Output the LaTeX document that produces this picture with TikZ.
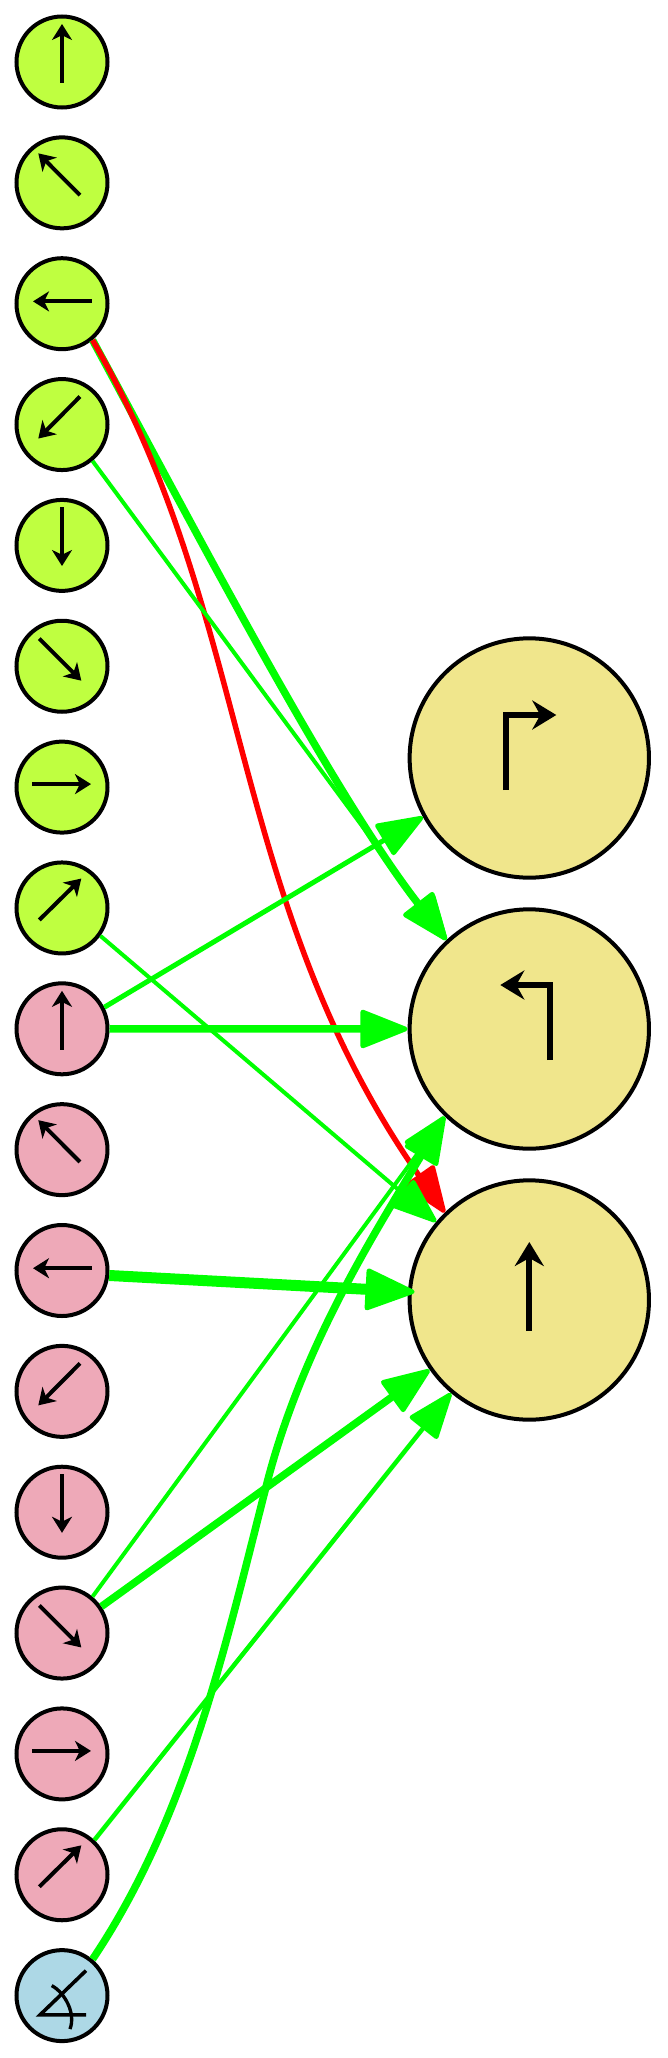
\documentclass[tikz,border=0pt]{standalone}
\usepackage{tikz}
\usetikzlibrary{arrows.meta,calc}
\definecolor{limefill}{HTML}{BFFF40}
\definecolor{pinkfill}{HTML}{EEA9B8}
\definecolor{bluefill}{HTML}{ADD8E6}
\definecolor{khakifill}{HTML}{F0E68C}
\tikzstyle{vertex}=[draw=black,circle,line width=3pt,minimum size=68.25pt,inner sep=0pt]
\tikzstyle{bigvertex}=[draw=black,fill=khakifill,circle,line width=3pt,minimum size=179.5pt,inner sep=0pt]
\tikzstyle{glyph}=[line width=3pt,-{Stealth[length=12pt,width=15pt,inset=3.6pt]}]
\tikzstyle{bigglyph}=[line width=4.5pt,-{Stealth[length=18pt,width=21.75pt,inset=6pt]}]
\tikzset{wire/.style={line width=#1*0.75pt,-{Triangle[length=36pt 0.45,width=24pt 1,round,line width=3.5pt]}}}
\begin{document}
\begin{tikzpicture}[x=0.75pt,y=-0.75pt]
\useasboundingbox (0,0) rectangle (667,2058);
\foreach \i in {0,...,7} {
  \node [vertex,fill=limefill] (g\i) at (62,{62+120.85*\i}) {};
  \node [vertex,fill=pinkfill] (p\i) at (62,{62+120.85*(\i+8)}) {};
}
\node [vertex,fill=bluefill] (b) at (62,1995.6) {};
\node [bigvertex] (r1) at (529.3,758) {};
\node [bigvertex] (r2) at (529.3,1029) {};
\node [bigvertex] (r3) at (529.3,1300) {};

\foreach \fam in {g,p}
  \foreach \i/\tx/\ty/\hx/\hy in {0/0/20.7/0/-38,1/18/12.3/-23.7/-29.5,2/29.7/-2.3/-29/-2.3,3/18/-28/-23.7/14,
    4/0/-38/0/20.6,5/-22.7/-27.6/19.3/14.4,6/-30/-3/29/-3,7/-22.7/12/19.3/-29.4} {
    \draw [glyph] ([shift={(\tx,\ty)}]\fam\i.center) -- ([shift={(\hx,\hy)}]\fam\i.center);
  }
\draw [line width=2.7pt] ([shift={(24,19.3)}]b.center) -- ([shift={(-22,19.3)}]b.center) -- ([shift={(24,-25)}]b.center);
\draw [line width=2.5pt] ([shift={(-10.3,-10)}]b.center) .. controls ([shift={(3,-3)}]b.center) and ([shift={(14,18)}]b.center) .. ([shift={(8,33.4)}]b.center);
\draw [bigglyph] ([shift={(-23,32)}]r1.center) -- ([shift={(-23,-43)}]r1.center) -- ([shift={(27,-43)}]r1.center);
\draw [bigglyph] ([shift={(21,31)}]r2.center) -- ([shift={(21,-44)}]r2.center) -- ([shift={(-29,-44)}]r2.center);
\draw [bigglyph] ([shift={(0,31)}]r3.center) -- ([shift={(0,-58)}]r3.center);

\coordinate (bend) at (267,1483);
\draw [wire=7.5,green] (g2.-50.8) .. controls (190,520) and (330,790) .. (r2.133);
\draw [wire=5.5,red] (g2.-50.8) .. controls (253,616) and (227,901) .. (r3.134.3);
\draw [wire=4,green] (g3.-50.5) -- (r2.133);
\draw [wire=4,green] (g7.-36.4) -- (r3.140.4);
\draw [wire=5,green] (p0.27.6) -- (r1.209.3);
\draw [wire=7.5,green] (p0.0) -- (r2.180);
\draw [wire=11,green,shorten >=-5pt] (p2.-6) -- (r3.176);
\draw [wire=4,green] (p5.50.7) -- (r2.226.4);
\draw [wire=7.5,green] (p5.34.4) -- (r3.215);
\draw [wire=4.5,green] (p7.47.6) -- (r3.230);
\draw [wire=7.5,green] (b.50.5) .. controls (188,1817) and (225,1647) .. (bend) .. controls (302,1348) and (372,1237) .. (r2.226.4);
\end{tikzpicture}
\end{document}
